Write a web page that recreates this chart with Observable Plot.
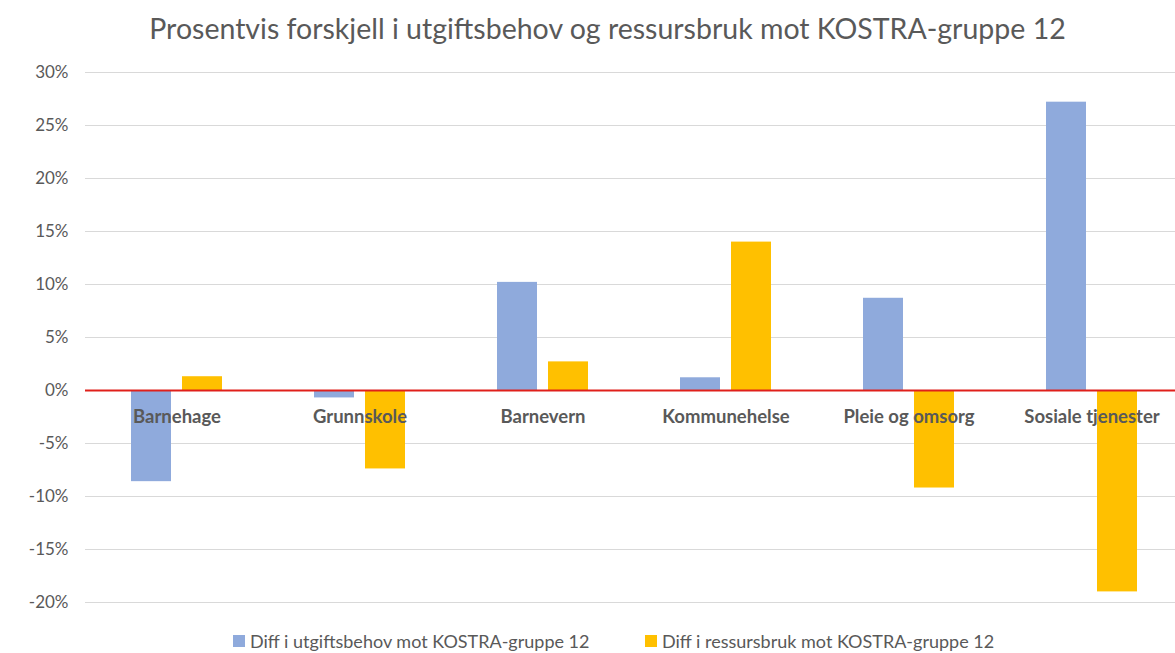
<!DOCTYPE html>
<html>
<head>
<meta charset="utf-8">
<script src="https://cdn.jsdelivr.net/npm/d3@7"></script>
<script src="https://cdn.jsdelivr.net/npm/@observablehq/plot@0.6"></script>
<style>
  html, body { margin: 0; padding: 0; background: #fff; overflow: hidden; width: 1175px; height: 653px; }
  body { font-family: Lato, "Open Sans", sans-serif; }
  #title { height: 56px; line-height: 56px; text-align: center; font-size: 28.5px; color: #595959; white-space: nowrap; width: 1215px; }
  #chart { width: 1185px; }
  #chart svg { max-width: none !important; }
  #legend { height: 22px; font-size: 18px; color: #595959; white-space: nowrap; }
  .sw { display: inline-block; width: 12px; height: 12px; margin-right: 5px; }
  .item { position: absolute; display: flex; align-items: center; line-height: 20px; }
</style>
</head>
<body>
<div id="title">Prosentvis forskjell i utgiftsbehov og ressursbruk mot KOSTRA-gruppe 12</div>
<div id="chart"></div>
<div id="legend"></div>
<script>
const categories = ["Barnehage", "Grunnskole", "Barnevern", "Kommunehelse", "Pleie og omsorg", "Sosiale tjenester"];
const seriesNames = ["Diff i utgiftsbehov mot KOSTRA-gruppe 12", "Diff i ressursbruk mot KOSTRA-gruppe 12"];
const utgiftsbehov = [-8.6, -0.7, 10.2, 1.2, 8.7, 27.2];
const ressursbruk = [1.3, -7.4, 2.7, 14.0, -9.2, -19.0];
const yTicks = [-20, -15, -10, -5, 0, 5, 10, 15, 20, 25, 30];
const colors = ["#8FAADC", "#FFC000"];

const data = [];
categories.forEach((c, i) => {
  data.push({category: c, series: seriesNames[0], value: utgiftsbehov[i]});
  data.push({category: c, series: seriesNames[1], value: ressursbruk[i]});
});
const labels = categories.map(c => ({category: c, y: 0}));

const chart = Plot.plot({
  width: 1185,
  height: 575,
  marginLeft: 83,
  marginRight: 0,
  marginTop: 16,
  marginBottom: 29,
  style: {fontFamily: "Lato, 'Open Sans', sans-serif", fontSize: "17px", color: "#595959", background: "#fff", maxWidth: "none"},
  fx: {domain: categories, padding: 0, axis: null},
  x: {domain: seriesNames, paddingInner: 0.21, paddingOuter: 0.87, axis: null},
  y: {domain: [-20, 30], ticks: yTicks, tickFormat: d => d + "%", tickSize: 0, tickPadding: 17, label: null},
  color: {domain: seriesNames, range: colors},
  marks: [
    Plot.ruleY(yTicks.filter(t => t !== 0), {stroke: "#d9d9d9", strokeWidth: 1.2}),
    Plot.barY(data, {fx: "category", x: "series", y: "value", fill: "series"}),
    Plot.ruleY([0], {stroke: "#E0201B", strokeWidth: 2}),
    Plot.text(labels, {fx: "category", y: "y", text: "category", dy: 27, fontWeight: "bold", fontSize: 18.5, fill: "#595959"})
  ]
});
document.getElementById("chart").appendChild(chart);

const legend = document.getElementById("legend");
const positions = [233, 645];
seriesNames.forEach((s, i) => {
  const item = document.createElement("div");
  item.className = "item";
  item.style.left = positions[i] + "px";
  item.style.top = "631px";
  item.innerHTML = `<span class="sw" style="background:${colors[i]}"></span><span>${s}</span>`;
  legend.appendChild(item);
});
</script>
</body>
</html>
